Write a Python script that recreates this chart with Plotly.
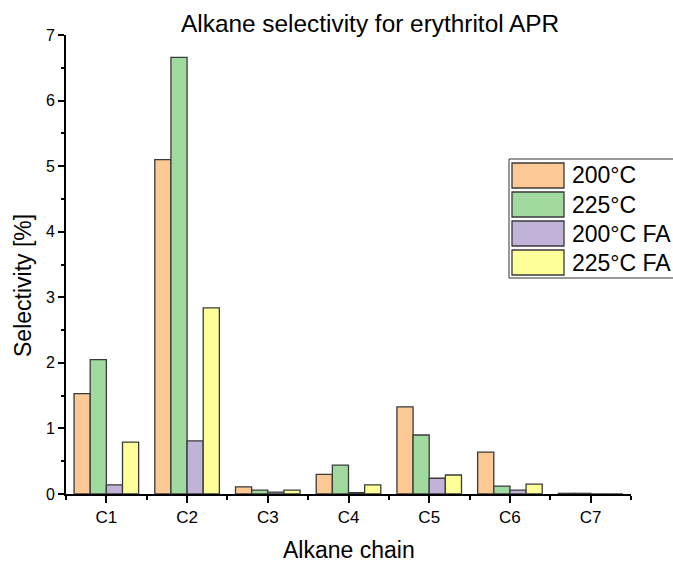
import plotly.graph_objects as go

# Alkane selectivity data (%), per carbon number
categories = ["C1", "C2", "C3", "C4", "C5", "C6", "C7"]
series_names = ["200°C", "225°C", "200°C FA", "225°C FA"]
sel_200 = [1.53, 5.10, 0.11, 0.30, 1.33, 0.64, 0.01]
sel_225 = [2.05, 6.66, 0.06, 0.44, 0.90, 0.12, 0.01]
sel_200_fa = [0.14, 0.81, 0.03, 0.02, 0.24, 0.06, 0.0]
sel_225_fa = [0.79, 2.84, 0.06, 0.14, 0.29, 0.15, 0.0]
y_ticks = [0, 1, 2, 3, 4, 5, 6, 7]

series_values = [sel_200, sel_225, sel_200_fa, sel_225_fa]
colors = ["#FCC995", "#A0DA9F", "#C1B3D7", "#FFFF99"]
edge = "#3a3a3a"
font_family = "Liberation Sans"

W, H = 673, 565
L, R, T, B = 66, 42, 35, 71
x_pos = list(range(1, len(categories) + 1))

fig = go.Figure()
for name, vals, col in zip(series_names, series_values, colors):
    fig.add_trace(go.Bar(
        x=x_pos, y=vals, name=name,
        marker=dict(color=col, line=dict(color=edge, width=1.3)),
        showlegend=False,
    ))


def px_x(p):
    return (p - L) / (W - L - R)


def px_y(p):
    return (H - B - p) / (H - T - B)


# Boxed legend with wide swatches, open on the right edge
shapes = [dict(type="rect", xref="paper", yref="paper",
               x0=px_x(509), x1=px_x(700), y0=px_y(278), y1=px_y(159),
               line=dict(color="#333333", width=1), fillcolor="white", layer="above")]
annotations = []
row_top = 163
for i, (name, col) in enumerate(zip(series_names, colors)):
    y0 = row_top + i * 29
    shapes.append(dict(type="rect", xref="paper", yref="paper",
                       x0=px_x(512), x1=px_x(564), y0=px_y(y0 + 25), y1=px_y(y0),
                       line=dict(color=edge, width=1.3), fillcolor=col, layer="above"))
    annotations.append(dict(xref="paper", yref="paper", x=px_x(570), y=px_y(y0 + 12.5),
                            text=name, showarrow=False, xanchor="left", yanchor="middle",
                            font=dict(size=23, color="black", family=font_family)))

annotations.append(dict(xref="paper", yref="paper", x=px_x(370), y=px_y(23),
                        text="Alkane selectivity for erythritol APR", showarrow=False,
                        xanchor="center", yanchor="middle",
                        font=dict(size=24.4, color="black", family=font_family)))
annotations.append(dict(xref="paper", yref="paper", x=px_x(349), y=px_y(550),
                        text="Alkane chain", showarrow=False,
                        xanchor="center", yanchor="middle",
                        font=dict(size=23, color="black", family=font_family)))
annotations.append(dict(xref="paper", yref="paper", x=px_x(23), y=px_y(286),
                        text="Selectivity [%]", showarrow=False, textangle=-90,
                        xanchor="center", yanchor="middle",
                        font=dict(size=23, color="black", family=font_family)))

fig.update_layout(
    width=W, height=H,
    margin=dict(l=L, r=R, t=T, b=B, pad=0),
    paper_bgcolor="white", plot_bgcolor="white",
    barmode="group", bargap=0.2, bargroupgap=0,
    font=dict(family=font_family, color="black"),
    shapes=shapes, annotations=annotations,
    showlegend=False,
    xaxis=dict(
        range=[0.5, 7.5], tickmode="array", tickvals=x_pos, ticktext=categories,
        ticks="outside", ticklen=7, tickwidth=1.5, tickcolor="black",
        showline=True, linecolor="black", linewidth=2, showgrid=False, zeroline=False,
        tickfont=dict(size=17, color="black", family=font_family),
        minor=dict(ticks="outside", ticklen=4, tickwidth=1.5, tickcolor="black",
                   tick0=0.5, dtick=1, showgrid=False),
    ),
    yaxis=dict(
        range=[0, 7], tickmode="array", tickvals=y_ticks,
        ticks="outside", ticklen=6, tickwidth=1.5, tickcolor="black",
        showline=True, linecolor="black", linewidth=2, showgrid=False, zeroline=False,
        tickfont=dict(size=16, color="black", family=font_family),
        minor=dict(ticks="outside", ticklen=3, tickwidth=1.5, tickcolor="black",
                   tick0=0, dtick=0.5, showgrid=False),
    ),
)

fig.write_html("out.html")
